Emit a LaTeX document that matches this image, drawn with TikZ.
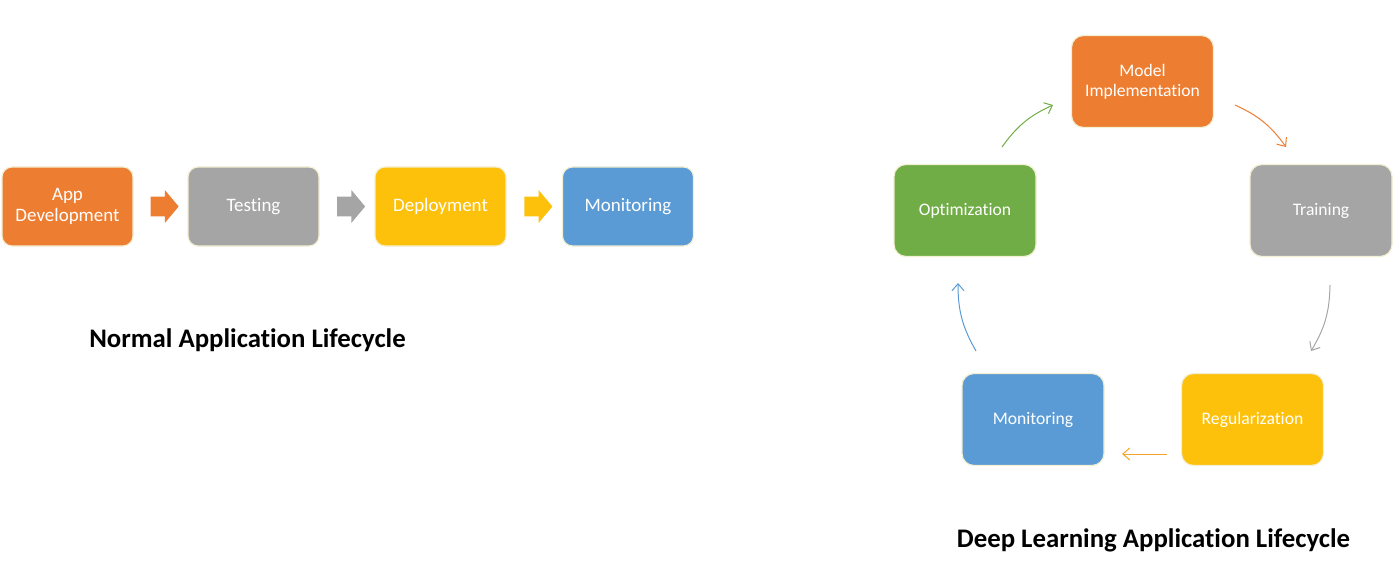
\documentclass[tikz,border=0pt]{standalone}
\usepackage{fontspec}
\setmainfont[Ligatures=NoCommon]{Carlito}
\usetikzlibrary{arrows.meta,shapes.arrows,calc}
\definecolor{oOrange}{HTML}{ED7D31}
\definecolor{oGray}{HTML}{A5A5A5}
\definecolor{oYellow}{HTML}{FDC10C}
\definecolor{oBlue}{HTML}{5B9BD5}
\definecolor{oGreen}{HTML}{70AD47}
\definecolor{oCream}{HTML}{F3EFD2}
\definecolor{oAmber}{HTML}{F5A42A}
\begin{document}
\begin{tikzpicture}[x=0.5pt,y=-0.5pt,
  lbox/.style={draw=oCream, line width=0.6pt, rounded corners=5pt, minimum width=65.5pt, minimum height=39.5pt, inner sep=0pt, align=center, text=white, font=\fontsize{9.5}{10.5}\selectfont},
  rbox/.style={draw=oCream, line width=0.6pt, rounded corners=6pt, minimum width=71pt, minimum height=46pt, inner sep=0pt, align=center, text=white, font=\fontsize{8.8}{10}\selectfont},
  blk/.style={shape=single arrow, draw=none, inner xsep=0pt, inner ysep=4.75pt, minimum height=14pt, single arrow head extend=3.25pt, single arrow tip angle=100},
  carr/.style={line width=0.5pt, -{Straight Barb[length=3.5pt,width=6pt]}},
  ttl/.style={font=\bfseries\fontsize{13.4}{16}\selectfont, text=black}]
\useasboundingbox (0,0) rectangle (1400,572);
% normal lifecycle
\node[lbox, fill=oOrange] (app) at (67.5,206.5) {App\\Development};
\node[lbox, fill=oGray] (test) at (253.5,206.5) {Testing};
\node[lbox, fill=oYellow] (dep) at (440.5,206.5) {Deployment};
\node[lbox, fill=oBlue] (mon) at (628,206.5) {Monitoring};
\node[blk, fill=oOrange] (a1) at ($(app.east)!0.5!(test.west)$) {};
\node[blk, fill=oGray] (a2) at ($(test.east)!0.5!(dep.west)$) {};
\node[blk, fill=oYellow] (a3) at ($(dep.east)!0.5!(mon.west)$) {};
\node[ttl] (t1) at (247.5,340) {Normal Application Lifecycle};
% deep learning lifecycle
\node[rbox, fill=oOrange] (model) at (1142.5,81.5) {Model\\Implementation};
\node[rbox, fill=oGray] (train) at (1321,210.5) {Training};
\node[rbox, fill=oGreen] (opt) at (965,210.5) {Optimization};
\node[rbox, fill=oYellow] (reg) at (1252.5,419.5) {Regularization};
\node[rbox, fill=oBlue] (dmon) at (1033,419.5) {Monitoring};
\coordinate (g1) at (1002,147); \coordinate (g2) at (1053,105);
\coordinate (o1) at (1235,105); \coordinate (o2) at (1286,147);
\coordinate (r1) at (1330,285); \coordinate (r2) at (1311,351);
\coordinate (y1) at (1167,454); \coordinate (y2) at (1122,454);
\coordinate (b1) at (976,351); \coordinate (b2) at (958,283);
\draw[carr, oGreen] (g1) to[bend left=15] (g2);
\draw[carr, oOrange] (o1) to[bend left=15] (o2);
\draw[carr, oGray] (r1) to[bend left=15] (r2);
\draw[carr, oAmber] (y1) -- (y2);
\draw[carr, oBlue] (b1) to[bend left=15] (b2);
\node[ttl] (t2) at (1153.5,540) {Deep Learning Application Lifecycle};
\end{tikzpicture}
\end{document}
